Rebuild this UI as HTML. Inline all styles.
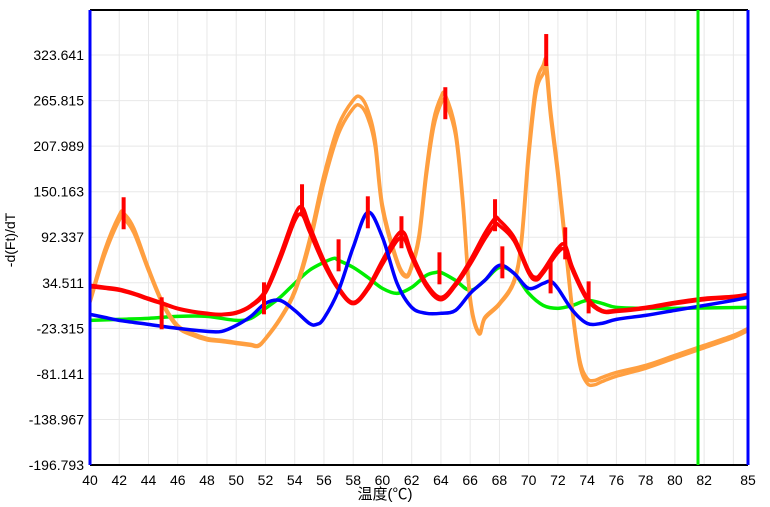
<!DOCTYPE html>
<html><head><meta charset="utf-8">
<style>
html,body{margin:0;padding:0;background:#fff;width:770px;height:507px;overflow:hidden}
svg{display:block}
text{font-family:"Liberation Sans","Noto Sans CJK SC",sans-serif;fill:#000}
</style></head>
<body>
<svg id="chart" width="770" height="507" viewBox="0 0 770 507" xmlns="http://www.w3.org/2000/svg">
<defs><clipPath id="pc"><rect x="90" y="10" width="658" height="455"/></clipPath></defs>
<g id="grid"></g>
<g id="series" clip-path="url(#pc)"></g>
<g id="axes"></g>
<text x="0" y="0" font-size="14" text-anchor="middle" transform="translate(15,240) rotate(-90)">-d(Ft)/dT</text>
<text x="385" y="499" font-size="15" text-anchor="middle">温度(℃)</text>
</svg>
<script>
const xTicks=[40,42,44,46,48,50,52,54,56,58,60,62,64,66,68,70,72,74,76,78,80,82,85];
const yTicks=[323.641,265.815,207.989,150.163,92.337,34.511,-23.315,-81.141,-138.967,-196.793];
const redT=[40,41,42,43,44,45,46,47,48,49,50,51,52,53,54,54.5,55,56,57,58,59,60,61,61.5,62,63,64,65,66,67,67.7,68,69,70,70.5,71,72,72.5,73,74,75,76,78,80,82,84,85];
const red1V=[31.4,28.9,26.3,21.2,14.8,8.5,2.1,-1.7,-4.2,-5.5,-3,5.9,24.9,69.4,120.3,130.4,108,63,28.7,9.7,28.7,63,94.8,97.4,72,33.8,16,33.8,63,97.4,116.4,113.9,92.3,50.3,41.4,50.3,78.3,82.1,54.1,16,-0.5,-0.5,3.3,9.7,14.8,17.3,19.9];
const red2V=[29.5,27.5,25,20,13.5,7.5,1.5,-2.5,-5,-6,-4,4.5,22,64,113,121,100,58,26,8,26,58,88,90,67,30,13,31,58,90,108,107,88,47,38,47,73,76,50,13,-2,-2,2,8,13,16,18.5];
const greenT=[40,42,44,46,48,50,51,52,53,54,55,56,56.7,57,58,59,60,61,62,63,63.7,64,65,66,67,68,69,70,71,72,73,74,75,76,78,80,85];
const greenV=[-13.2,-11.9,-10.6,-8.1,-8.1,-13.2,-10.6,2.1,16,33.8,50.3,60.5,65.6,63,54.1,41.4,27.4,21.1,28.7,44,47.8,47.8,37.6,24.9,37.6,54.1,46.5,21.1,5.8,2.1,5.8,12.2,8.5,3.3,2.1,2.1,3.3];
const blueT=[40,41,42,44,46,48,49,50,51,52,53,54,55,55.5,56,57,58,59,60,61,62,63,64,65,66,67,68,69,70,71,71.5,72,73,74,75,76,78,80,82,84,85];
const blueV=[-5.5,-9.4,-13.2,-18.3,-23.4,-27.2,-27.2,-19.6,-8.1,8.4,12.2,-0.5,-17,-18.3,-10.6,24.9,79.6,124,92.3,33.8,3.3,-4.2,-4.2,-0.5,21.1,37.6,56.7,46.5,27.4,33.8,36.4,27.4,-0.5,-17,-17,-11.9,-6.8,-0.5,5.8,12.2,16];
const orangeT=[40,41,42,42.3,43,44,45,46,47,48,49,50,51,51.5,52,53,54,55,56,57,58,58.5,59,59.5,60,61,61.6,62,62.5,63,63.5,64,64.3,65,65.5,66,66.6,67,68,69,69.5,70,70.5,71,71.2,71.5,72,72.5,73,73.5,74,74.5,75,76,78,80,82,84,85];
const orange1V=[12.2,75.7,120.3,122.8,103.7,52.9,8.4,-19.6,-29.7,-36.1,-38.6,-41.2,-43.7,-45,-36.1,-10.6,24.9,88.5,171.1,234.6,266.4,270.2,253.7,215.6,133,63,44,56.7,94.8,177.5,241,270.2,272.8,228.3,139.3,16,-28.4,-9.4,8.4,37.6,88.5,202.9,285.5,310.9,314.7,253.7,177.5,88.5,-0.5,-64.1,-86.9,-89.5,-85.7,-79.3,-70.4,-57.7,-45,-32.3,-23.4];
const orange2V=[10,70,114,116,98,50,6,-22,-32,-38,-40,-42.5,-45,-46,-37,-12,22,82,162,224,256,259,244,208,128,60,42,54,90,170,232,262,264,222,134,12,-30,-11,7,35,84,194,276,300,303,246,170,82,-4,-70,-93,-95,-91,-84,-74,-61,-48,-35,-26];
const markerT=[42.3,44.9,51.9,54.5,57,59,61.3,63.9,64.3,67.7,68.2,71.2,71.5,72.5,74.1];
const markerV=[122.8,-4.2,14.8,139.3,69.4,124,98.7,52.9,262.5,120.3,60.5,330,41.4,84.6,16];

const X0=90,X1=748,Y0=10,Y1=465;
const xs=t=>X0+(t-40)*(X1-X0)/45;
const yTop=323.641+57.826*45/45.5, yBot=-196.793;
const ys=v=>Y0+(yTop-v)*(Y1-Y0)/(yTop-yBot);
const NS="http://www.w3.org/2000/svg";
function mk(tag,attrs,parent){const e=document.createElementNS(NS,tag);for(const k in attrs)e.setAttribute(k,attrs[k]);parent.appendChild(e);return e;}
const grid=document.getElementById('grid'),axes=document.getElementById('axes'),ser=document.getElementById('series');
for(let t=42;t<=84;t+=2){const l=mk('line',{x1:xs(t),x2:xs(t),y1:Y0,y2:Y1,stroke:'#e8e8e8','stroke-width':1},grid);

}
yTicks.forEach(v=>{const l=mk('line',{x1:X0,x2:X1,y1:ys(v),y2:ys(v),stroke:'#e8e8e8','stroke-width':1},grid);


const tx=mk('text',{x:84,y:ys(v)+5,'font-size':14,'text-anchor':'end'},axes);tx.textContent=v.toFixed(3);

});
xTicks.forEach(t=>{const tx=mk('text',{x:xs(t),y:485,'font-size':14,'text-anchor':'middle'},axes);tx.textContent=t;

});
function path(T,V){const p=T.map((t,i)=>[xs(t),ys(V[i])]);let d='M'+p[0][0]+','+p[0][1];
for(let i=0;i<p.length-1;i++){const a=p[Math.max(0,i-1)],b=p[i],c=p[i+1],e=p[Math.min(p.length-1,i+2)];
d+=' C'+(b[0]+(c[0]-a[0])/6)+','+(b[1]+(c[1]-a[1])/6)+' '+(c[0]-(e[0]-b[0])/6)+','+(c[1]-(e[1]-b[1])/6)+' '+c[0]+','+c[1];}return d;}
function line(T,V,col,name){const e=mk('path',{d:path(T,V),fill:'none',stroke:col,'stroke-width':3.5,'stroke-linejoin':'round'},ser);

}
line(greenT,greenV,'#00ee00','green-series');
line(orangeT,orange2V,'#ff9f40','orange-series-2');
line(orangeT,orange1V,'#ff9f40','orange-series-1');
line(redT,red2V,'#ff0000','red-series-2');
line(redT,red1V,'#ff0000','red-series-1');
line(blueT,blueV,'#0000ff','blue-series');
markerT.forEach((t,i)=>{const r=mk('rect',{x:xs(t)-2,y:ys(markerV[i])-16,width:4,height:32,fill:'#ff0000'},ser);

});
const a1=mk('line',{x1:X0,x2:X1,y1:Y0,y2:Y0,stroke:'#000','stroke-width':2},axes);


const a2=mk('line',{x1:X0,x2:X1,y1:Y1,y2:Y1,stroke:'#000','stroke-width':2},axes);


const a3=mk('line',{x1:X0,x2:X0,y1:Y0,y2:Y1,stroke:'#0000ff','stroke-width':3},axes);


const a4=mk('line',{x1:X1,x2:X1,y1:Y0,y2:Y1,stroke:'#0000ff','stroke-width':3},axes);


const a5=mk('line',{x1:698,x2:698,y1:Y0,y2:Y1,stroke:'#00ee00','stroke-width':3},axes);


</script>
</body></html>
